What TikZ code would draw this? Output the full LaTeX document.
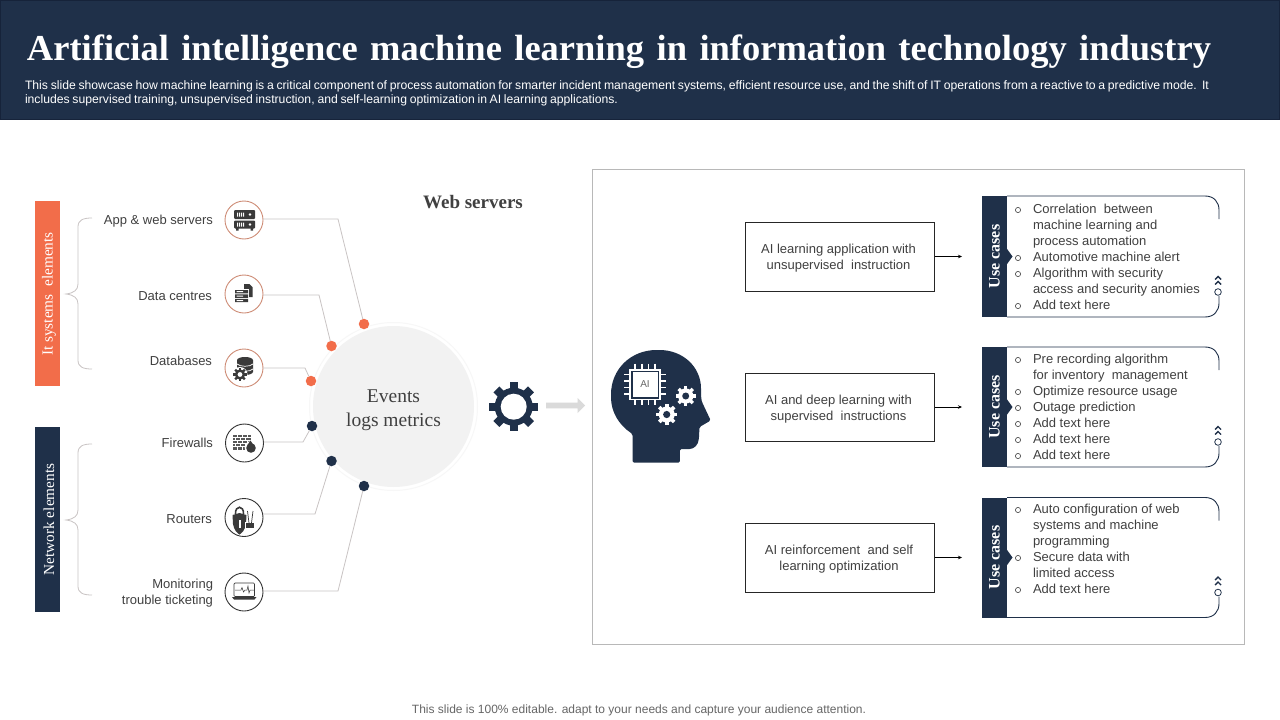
\documentclass[tikz,border=0pt]{standalone}
\usepackage{fontspec}
\setmainfont{Liberation Sans}
\newfontfamily\serifb{Liberation Serif}
\usetikzlibrary{arrows.meta}
\definecolor{navy}{HTML}{1F3049}
\definecolor{navyedge}{HTML}{16233A}
\definecolor{coral}{HTML}{F26D4A}
\definecolor{ringcoral}{HTML}{CE8C76}
\definecolor{bodytxt}{HTML}{404040}
\definecolor{wire}{HTML}{C9C4C4}
\definecolor{panel}{HTML}{B8B8B8}
\definecolor{disc}{HTML}{F2F2F2}
\definecolor{icondark}{HTML}{3A3A3A}
\newcommand{\px}[1]{\fontsize{#1}{#1}\selectfont}
% gear: x,y,outer,body,hole,teeth,width,colour,holecolour
\newcommand{\cog}[9]{%
  \foreach \ang in {1,...,#6}{%
    \fill[#8,rotate around={\ang*360/#6:(#1,#2)}] ({#1-#7},{#2-#3}) rectangle ({#1+#7},#2);}%
  \fill[#8] (#1,#2) circle (#4);
  \fill[#9] (#1,#2) circle (#5);}
\tikzset{
  every node/.style={inner sep=0pt,outer sep=0pt},
  lbl/.style={anchor=base east,text=bodytxt,font=\px{13},align=right},
  sidetext/.style={rotate=90,text=white,font=\serifb\px{15.3}},
  icring/.style={circle,draw=#1,line width=.9pt,minimum size=38pt,fill=white},
  wireline/.style={draw=wire,line width=.8pt},
  dot/.style={circle,fill=#1,minimum size=10.5pt},
  brace/.style={draw=wire,line width=.8pt},
  aibox/.style={draw=black!85,line width=.7pt,fill=white,minimum width=189.5pt},
  aitext/.style={text=bodytxt,font=\fontsize{13}{16}\selectfont,align=center},
  flow/.style={draw=black,line width=.7pt,-{Stealth[length=4pt,width=3.5pt]}},
  cardline/.style={draw=navy,line width=.9pt},
  casetext/.style={anchor=north west,text=bodytxt,font=\fontsize{13}{16}\selectfont,align=left},
  bul/.style={draw=bodytxt,line width=.6pt,fill=none},
  usebar/.style={rotate=90,text=white,font=\serifb\bfseries\px{16}},
}
\newcommand{\usecard}[3]{% top y, bottom y, bar node name
  \fill[navy] (982,#1) rectangle (1007,#2);
  \fill[navy] (1006,{(#1+#2)/2-9}) -- (1012.5,{(#1+#2)/2}) -- (1006,{(#1+#2)/2+9}) -- cycle;
  \node[usebar] (#3) at (994.5,{(#1+#2)/2}) {Use cases};
  \draw[cardline] (1007,#1) -- (1205,#1) .. controls (1214,#1) and (1219,{#1+6}) .. (1219,{#1+14}) -- (1219,{#1+23});
  \draw[cardline] (1007,#2) -- (1205,#2) .. controls (1214,#2) and (1219,{#2-6}) .. (1219,{#2-14}) -- (1219,{#2-21});
  \draw[cardline,line width=.8pt] (1218,{#2-25}) circle (3.3);
  \foreach \dd in {32.5,37.5}{\draw[navy,line width=1.4pt] (1215,{#2-\dd}) -- (1218,{#2-\dd-3}) -- (1221,{#2-\dd});}
}
\begin{document}
\begin{tikzpicture}[x=1pt,y=-1pt]
\useasboundingbox (0,0) rectangle (1280,720);
\fill[white] (0,0) rectangle (1280,720);
% header
\fill[navy] (0,0) rectangle (1280,120);
\draw[navyedge,line width=1pt] (.5,.5) rectangle (1279.5,119.5);
\node[anchor=base west,text=white,font=\serifb\bfseries\px{36.5}] (title) at (27,60) {\makebox[1184pt][s]{Artificial intelligence machine learning in information technology industry}};
\node[anchor=base west,text=white,font=\px{12.2}] (desc1) at (25,89) {\spaceskip=2pt plus 5pt\makebox[1184pt][s]{This slide showcase how machine learning is a critical component of process automation for smarter incident management systems, efficient resource use, and the shift of IT operations from a reactive to a predictive mode. It}};
\node[anchor=base west,text=white,font=\px{12.2}] (desc2) at (25,103) {\spaceskip=2pt plus 5pt\makebox[593pt][s]{includes supervised training, unsupervised instruction, and self-learning optimization in AI learning applications.}};
% side bars
\fill[coral] (35,201) rectangle (60,386);
\node[sidetext] (itbar) at (49,294) {It systems\ \ elements};
\fill[navy] (35,427) rectangle (60,612);
\node[sidetext] (netbar) at (49,519.5) {Network elements};
% braces
\draw[brace] (92,218) .. controls (83,218) and (78,220) .. (78,227) -- (78,284) .. controls (78,290) and (74,293) .. (66,294) .. controls (74,295) and (78,298) .. (78,304) -- (78,360) .. controls (78,367) and (83,369) .. (92,369);
\draw[brace] (92,444) .. controls (83,444) and (78,446) .. (78,453) -- (78,510) .. controls (78,516) and (74,519) .. (66,520) .. controls (74,521) and (78,524) .. (78,530) -- (78,586) .. controls (78,593) and (83,595) .. (92,595);
% main disc
\draw[disc!60!white,line width=1pt] (393.5,406.5) circle (84);
\node[circle,fill=disc,minimum size=161pt] (hub) at (393.5,406.5) {};
\node[align=center,font=\serifb\fontsize{19.5}{24}\selectfont,text=bodytxt] (hubtext) at (393.5,410) {Events\\logs metrics};
% dots
\node[dot=coral] (d1) at (364,324) {};
\node[dot=coral] (d2) at (331.5,346) {};
\node[dot=coral] (d3) at (311,381) {};
\node[dot=navy] (d4) at (312,426) {};
\node[dot=navy] (d5) at (331.5,461) {};
\node[dot=navy] (d6) at (364,486) {};
% icon rings
\node[icring=ringcoral] (i1) at (244,220) {};
\node[icring=ringcoral] (i2) at (244,294) {};
\node[icring=ringcoral] (i3) at (244,368) {};
\node[icring=black!80] (i4) at (244.5,443) {};
\node[icring=black!80] (i5) at (244,517.5) {};
\node[icring=black!80] (i6) at (244,592) {};
% wire bends
\coordinate (w1) at (338,219);
\coordinate (w2) at (319,295);
\coordinate (w3) at (305,368);
\coordinate (w4) at (303,442);
\coordinate (w5) at (315,514);
\coordinate (w6) at (338,591);
\foreach \n in {1,...,6}{\draw[wireline] (i\n.east |- w\n) -- (w\n) -- (d\n);}
% labels
\node[lbl] (l1) at (213,224) {App \& web servers};
\node[lbl] (l2) at (212,300.5) {Data centres};
\node[lbl] (l3) at (212,365) {Databases};
\node[lbl] (l4) at (213,447.3) {Firewalls};
\node[lbl] (l5) at (212,523.5) {Routers};
\node[lbl] (l6a) at (213,588.5) {Monitoring};
\node[lbl] (l6b) at (213,604.5) {trouble ticketing};
% --- icon glyphs ---
% servers
\fill[icondark,rounded corners=1pt] (234,210) rectangle (255,219);
\fill[icondark,rounded corners=1pt] (234,220.5) rectangle (255,228.5);
\fill[icondark] (236,228) rectangle (238.5,230.5) (250.5,228) rectangle (253,230.5);
\foreach \xs in {237,239,241,243}{\fill[white] (\xs,212.5) rectangle ({\xs+1.2},216.5) (\xs,222.5) rectangle ({\xs+1.2},226.5);}
\fill[white] (250,214.5) circle (1.4) (250,224.5) circle (1.4);
% data centres
\fill[icondark] (244,284) -- (249.5,284) -- (252.5,287) -- (252.5,297) -- (244,297) -- cycle;
\fill[white] (234,289) rectangle (249,303);
\fill[icondark] (235,290) rectangle (248,293.4) (235,294.4) rectangle (248,297.8) (235,298.8) rectangle (248,302.2);
\fill[white] (236.5,291.2) rectangle (243,292.2) (236.5,295.6) rectangle (243,296.6) (236.5,300) rectangle (243,301);
% databases
\fill[icondark] (237,360) .. controls (238,356) and (252,356) .. (253,360) -- (253,372) .. controls (252,376) and (238,376) .. (237,372) -- cycle;
\draw[white,line width=.7pt] (237,364) .. controls (240,367) and (250,367) .. (253,364);
\draw[white,line width=.7pt] (237,369) .. controls (240,372) and (250,372) .. (253,369);
\fill[white] (240,374.5) circle (7.5);
\cog{240}{374.5}{6.8}{5.2}{2.4}{8}{1.1}{icondark}{white}
% firewalls
\fill[icondark!85] (232.5,434.5) rectangle (250.5,450);
\foreach \yy in {437.5,440.5,443.5,446.5}{\draw[white,line width=.5pt] (232.5,\yy) -- (250.5,\yy);}
\foreach \xx in {237,242,247}{\draw[white,line width=.4pt] (\xx,434.5) -- (\xx,437.5) (\xx,440.5) -- (\xx,443.5) (\xx,446.5) -- (\xx,450);}
\foreach \xx in {235,240,245}{\draw[white,line width=.4pt] (\xx,437.5) -- (\xx,440.5) (\xx,443.5) -- (\xx,446.5);}
\fill[white] (251,447.5) circle (6.3);
\fill[icondark] (251,448) circle (4.8);
\fill[icondark] (250.5,440.5) -- (253.5,445) -- (247.5,445) -- cycle;
% routers
\fill[icondark] (232.5,515) -- (239.5,513) -- (246.5,515) -- (246,524) .. controls (245,530) and (242,533) .. (239.5,534.5) .. controls (237,533) and (234,530) .. (233,524) -- cycle;
\draw[icondark,line width=1.6pt] (235.5,514) .. controls (235,505) and (244,505) .. (243.5,514);
\fill[white] (238.5,520) rectangle (240.8,528);
\fill[white] (245,522) rectangle (246.8,530);
\fill[icondark] (246,523) rectangle (254,527.5);
\draw[icondark,line width=.7pt] (249,523) -- (247.5,511) (251.5,523) -- (253,511);
% monitoring
\draw[icondark,line width=.7pt,rounded corners=1pt] (234,583) rectangle (254.5,596.5);
\fill[icondark] (232,597) -- (256.5,597) -- (254.5,599.5) -- (234,599.5) -- cycle;
\draw[icondark,line width=.5pt] (235,590) -- (241,590) -- (242,587.5) -- (243.5,592) -- (245,590) -- (247,590) -- (248,586) -- (249,593) -- (250,590) -- (254,590);
% centre gear and arrow
\cog{513.7}{406.7}{24.5}{19}{13}{8}{4.2}{navy}{white}
\fill[disc!90!black] (546,402.7) -- (577.5,402.7) -- (577.5,398) -- (585,405.5) -- (577.5,413) -- (577.5,408.3) -- (546,408.3) -- cycle;
% right panel
\draw[panel,line width=.9pt] (592.5,169.5) rectangle (1244,644);
% head
\fill[navy,rounded corners=1.5pt] (632.5,462.7) -- (632.5,434) .. controls (619,425) and (611,412) .. (611,396) .. controls (611,369) and (631,350) .. (658,350) .. controls (683,350) and (701,367) .. (701,390) .. controls (701,394) and (701,398) .. (702,402) -- (710.7,420.5) -- (699.5,427) -- (699,437) .. controls (698.5,445) and (694,449) .. (688,449) -- (679.8,449) -- (679.8,462.7) -- cycle;
\draw[white,line width=1.6pt] (630,370) rectangle (660,399.5);
\fill[white] (632.5,372) rectangle (657.5,396.5);
\foreach \t in {635,641.7,648.3,655}{\draw[white,line width=1.6pt] (\t,363.5) -- (\t,369.5) (\t,400) -- (\t,405);}
\foreach \t in {374.5,381,387.5,394}{\draw[white,line width=1.6pt] (624,\t) -- (629.5,\t) (660.5,\t) -- (666,\t);}
\node[text=black!60,font=\px{10}] (ailabel) at (645,384.5) {AI};
\cog{685.7}{396}{10}{7.6}{3.5}{8}{1.7}{white}{navy}
\cog{666.7}{414.5}{10.5}{8}{3.6}{8}{1.8}{white}{navy}
% AI boxes
\node[aibox,minimum height=69pt] (b1) at (840,256.5) {};
\node[aibox,minimum height=68pt] (b2) at (840,407) {};
\node[aibox,minimum height=69pt] (b3) at (840,557.5) {};
\node[aitext] (t1) at (838.5,258.5) {AI learning application with\\unsupervised\ \ instruction};
\node[aitext] (t2) at (838.5,409.5) {AI and deep learning with\\supervised\ \ instructions};
\node[aitext] (t3) at (839,559.5) {AI reinforcement\ \ and self\\learning optimization};
\coordinate (e1) at (962,256.5);
\coordinate (e2) at (962,407);
\coordinate (e3) at (962,557.5);
\foreach \n in {1,2,3}{\draw[flow] (b\n) -- (e\n);}
% cards
\usecard{196}{317}{u1}
\usecard{347}{467}{u2}
\usecard{497.5}{617.5}{u3}
\node[casetext] (c1) at (1033,204) {Correlation\ \ between\\machine learning and\\process automation\\Automotive\ machine alert\\Algorithm with security\\access and security anomies\\Add text here};
\node[casetext] (c2) at (1033,354) {Pre recording algorithm\\for inventory\ \ management\\Optimize resource usage\\Outage prediction\\Add text here\\Add text here\\Add text here};
\node[casetext] (c3) at (1033,504) {Auto configuration\ of web\\systems and machine\\programming\\Secure data with\\limited access\\Add text here};
\foreach \yy in {210,258,274,306,360,392,408,424,440,456,510,558,590}{\draw[bul] (1018,\yy) circle (2.6);}
% web servers & footer
\node[text=bodytxt,font=\serifb\bfseries\px{19}] (ws) at (473,202) {Web servers};
\node[anchor=base,text=black!60,font=\px{12}] (foot) at (639,713) {This slide is 100\% editable. adapt to your needs and capture your audience attention.};
\end{tikzpicture}
\end{document}
